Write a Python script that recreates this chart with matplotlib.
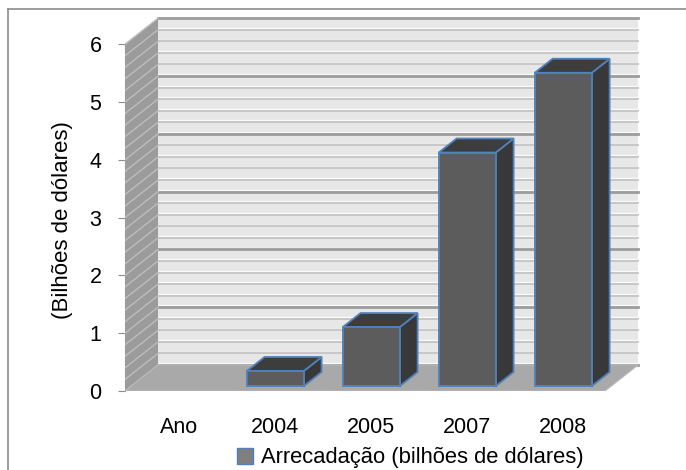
import numpy as np
import matplotlib.pyplot as plt
from matplotlib.patches import Polygon, Patch
from matplotlib.lines import Line2D

plt.rcParams['font.family'] = ['Liberation Sans', 'DejaVu Sans']

# data
categorias = ['Ano', '2004', '2005', '2007', '2008']
arrecadacao = [0.0, 0.26, 1.02, 4.04, 5.42]
y_ticks = [0, 1, 2, 3, 4, 5, 6]

# pseudo-3D geometry (in data units)
depth_x, depth_y = 0.344, 0.45     # full depth of the floor
bar_front, bar_back = 0.19, 0.73   # bar position inside the depth
half_w = 0.297
y_top = 6

W, H = 686, 470
fig = plt.figure(figsize=(W / 100, H / 100), dpi=100)
ax = fig.add_axes([125 / W, 79 / H, 515 / W, 374 / H])
ax.set_xlim(-0.5, -0.5 + 515 / 96)
ax.set_ylim(0, 374 / 57.8)

n = len(categorias)
x0, x1 = -0.5, n - 0.5

# back wall
ax.add_patch(Polygon([(x0 + depth_x, depth_y), (x1 + depth_x, depth_y),
                      (x1 + depth_x, y_top + depth_y), (x0 + depth_x, y_top + depth_y)],
                     closed=True, facecolor='#e7e7e7', edgecolor='none', zorder=1))
for v in np.arange(0, y_top + 0.01, 0.2):
    major = abs(v - round(v)) < 1e-6
    ax.plot([x0 + depth_x, x1 + depth_x], [v + depth_y + 0.03, v + depth_y + 0.03],
            color='#fafafa', lw=1, zorder=2)
    ax.plot([x0 + depth_x, x1 + depth_x], [v + depth_y, v + depth_y],
            color='#9c9c9c' if major else '#c4c4c4', lw=2 if major else 1.3, zorder=2)

# left wall
ax.add_patch(Polygon([(x0, 0), (x0 + depth_x, depth_y), (x0 + depth_x, y_top + depth_y), (x0, y_top)],
                     closed=True, facecolor='#9b9b9b', edgecolor='none', zorder=3))
for v in np.arange(0, y_top + 0.01, 0.2):
    ax.plot([x0, x0 + depth_x], [v, v + depth_y], color='#bdbdbd', lw=1, zorder=3)

# floor
ax.add_patch(Polygon([(x0, 0), (x1, 0), (x1 + depth_x, depth_y), (x0 + depth_x, depth_y)],
                     closed=True, facecolor='#a9a9a9', edgecolor='#b8b8b8', lw=0.8, zorder=4))

# bars
fx, fy = bar_front * depth_x, bar_front * depth_y
bx, by = (bar_back - bar_front) * depth_x, (bar_back - bar_front) * depth_y
edge = '#4f81bd'
for i, v in enumerate(arrecadacao):
    if v <= 0:
        continue
    l, r = i + fx - half_w, i + fx + half_w
    b, t = fy, fy + v
    front = [(l, b), (r, b), (r, t), (l, t)]
    top = [(l, t), (r, t), (r + bx, t + by), (l + bx, t + by)]
    side = [(r, b), (r + bx, b + by), (r + bx, t + by), (r, t)]
    ax.add_patch(Polygon(side, closed=True, facecolor='#383838', edgecolor=edge, lw=1.3, zorder=5))
    ax.add_patch(Polygon(top, closed=True, facecolor='#3d3d3d', edgecolor=edge, lw=1.3, zorder=5))
    ax.add_patch(Polygon(front, closed=True, facecolor='#5c5c5c', edgecolor=edge, lw=1.3, zorder=6))

# axes
for s in ['top', 'right', 'bottom']:
    ax.spines[s].set_visible(False)
ax.spines['left'].set_bounds(0, y_top)
ax.spines['left'].set_color('#a0a0a0')
ax.set_yticks(y_ticks)
ax.tick_params(axis='y', length=5, color='#8c8c8c', pad=12, labelsize=15.5)
ax.set_xticks(np.arange(n) + fx)
ax.set_xticklabels(categorias)
ax.tick_params(axis='x', length=0, pad=19, labelsize=15.5)
ax.set_ylabel('(Bilhões de dólares)', fontsize=16)
ax.yaxis.set_label_coords(-0.101, 0.457)
ax.patch.set_visible(False)

# legend
handle = Patch(facecolor='#7f7f7f', edgecolor=edge, lw=1)
fig.legend([handle], ['Arrecadação (bilhões de dólares)'], loc='center',
           bbox_to_anchor=(410 / W, 1 - 458 / H), frameon=False, fontsize=15.8,
           handlelength=0.75, handleheight=0.75, handletextpad=0.35)

# outer frame
fig.add_artist(Line2D([8 / W, 8 / W], [0, 1 - 9 / H], color='#8c8c8c', lw=1.2))
fig.add_artist(Line2D([8 / W, 1], [1 - 9 / H, 1 - 9 / H], color='#8c8c8c', lw=1.2))

fig.savefig('out.png', dpi=100)
